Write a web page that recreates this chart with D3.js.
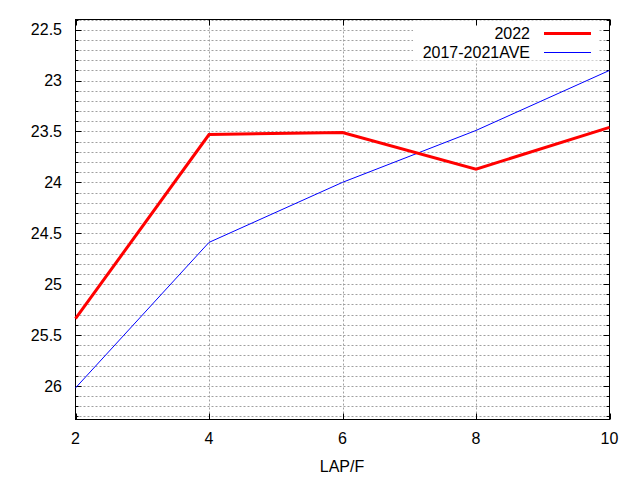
<!DOCTYPE html>
<html>
<head>
<meta charset="utf-8">
<script src="https://cdn.jsdelivr.net/npm/d3@7"></script>
<style>
  html, body { margin: 0; padding: 0; background: #fff; }
  svg text { font-family: "Liberation Sans", Arial, sans-serif; font-size: 16px; fill: #000; }
</style>
</head>
<body>
<svg id="chart" width="640" height="480"></svg>
<script>
'use strict';

// data
const laps = [2, 4, 6, 8, 10];
const series2022 = [25.34, 23.53, 23.51, 23.87, 23.46];
const seriesAve = [26.02, 24.59, 24.0, 23.49, 22.9];
const yTickValues = [22.5, 23, 23.5, 24, 24.5, 25, 25.5, 26];
const xTickValues = [2, 4, 6, 8, 10];
const legendNames = ['2022', '2017-2021AVE'];

const svg = d3.select('#chart');
const plotLeft = 75.5, plotRight = 609.5, plotTop = 19.5, plotBottom = 419.5;

const x = d3.scaleLinear().domain([2, 10]).range([plotLeft, plotRight]);
// y axis is reversed: small values at top
const y = d3.scaleLinear().domain([22.4, 26.33]).range([plotTop, plotBottom]);

// minor ticks every 0.1
const yMinor = d3.range(224, 264).map(v => v / 10).filter(v => v >= 22.4 && v <= 26.33);

// grid
const grid = svg.append('g')
  .attr('stroke', '#a0a0a0')
  .attr('stroke-width', 1)
  .attr('stroke-dasharray', '2,2');

grid.selectAll('line.h').data(yMinor).join('line')
  .attr('class', 'h')
  .attr('x1', plotLeft).attr('x2', plotRight)
  .attr('y1', d => Math.round(y(d)) + 0.5)
  .attr('y2', d => Math.round(y(d)) + 0.5);

grid.selectAll('line.v').data(xTickValues.slice(1, -1)).join('line')
  .attr('class', 'v')
  .attr('y1', plotTop).attr('y2', plotBottom)
  .attr('x1', d => Math.round(x(d)) + 0.5)
  .attr('x2', d => Math.round(x(d)) + 0.5);

// legend background hides the grid behind the key
svg.append('rect')
  .attr('x', 413).attr('y', plotTop + 1)
  .attr('width', 185).attr('height', 40)
  .attr('fill', '#fff');

// ticks (inward, mirrored on all sides)
const ticks = svg.append('g').attr('stroke', '#000').attr('stroke-width', 1);
yMinor.forEach(v => {
  const major = yTickValues.some(t => Math.abs(t - v) < 1e-6);
  const len = major ? 6 : 3;
  const yy = Math.round(y(v)) + 0.5;
  ticks.append('line').attr('x1', plotLeft).attr('x2', plotLeft + len).attr('y1', yy).attr('y2', yy);
  ticks.append('line').attr('x1', plotRight).attr('x2', plotRight - len).attr('y1', yy).attr('y2', yy);
});
xTickValues.forEach(v => {
  const xx = Math.round(x(v)) + 0.5;
  ticks.append('line').attr('x1', xx).attr('x2', xx).attr('y1', plotBottom).attr('y2', plotBottom - 6);
  ticks.append('line').attr('x1', xx).attr('x2', xx).attr('y1', plotTop).attr('y2', plotTop + 6);
});

// frame
svg.append('rect')
  .attr('x', plotLeft).attr('y', plotTop)
  .attr('width', plotRight - plotLeft).attr('height', plotBottom - plotTop)
  .attr('fill', 'none').attr('stroke', '#000').attr('stroke-width', 1);

// tick labels
svg.append('g').selectAll('text').data(yTickValues).join('text')
  .attr('x', 62)
  .attr('y', d => y(d))
  .attr('dy', '0.35em')
  .attr('text-anchor', 'end')
  .text(d => d3.format('')(d));

svg.append('g').selectAll('text').data(xTickValues).join('text')
  .attr('x', d => x(d))
  .attr('y', 438)
  .attr('dy', '0.35em')
  .attr('text-anchor', 'middle')
  .text(d => d);

svg.append('text')
  .attr('x', 342).attr('y', 466)
  .attr('dy', '0.35em')
  .attr('text-anchor', 'middle')
  .text('LAP/F');

// series
const line = d3.line().x(d => x(d[0])).y(d => y(d[1]));

svg.append('path')
  .datum(d3.zip(laps, seriesAve))
  .attr('d', line)
  .attr('fill', 'none')
  .attr('stroke', '#0000ff')
  .attr('stroke-width', 1);

svg.append('path')
  .datum(d3.zip(laps, series2022))
  .attr('d', line)
  .attr('fill', 'none')
  .attr('stroke', '#ff0000')
  .attr('stroke-width', 3);

// legend
const legendStyle = [
  { color: '#ff0000', width: 3 },
  { color: '#0000ff', width: 1 }
];
legendNames.forEach((name, i) => {
  const ly = 33 + i * 19;
  svg.append('text')
    .attr('x', 530).attr('y', ly)
    .attr('dy', '0.35em')
    .attr('text-anchor', 'end')
    .text(name);
  svg.append('line')
    .attr('x1', 544).attr('x2', 591)
    .attr('y1', ly + 0.5).attr('y2', ly + 0.5)
    .attr('stroke', legendStyle[i].color)
    .attr('stroke-width', legendStyle[i].width);
});
</script>
</body>
</html>
